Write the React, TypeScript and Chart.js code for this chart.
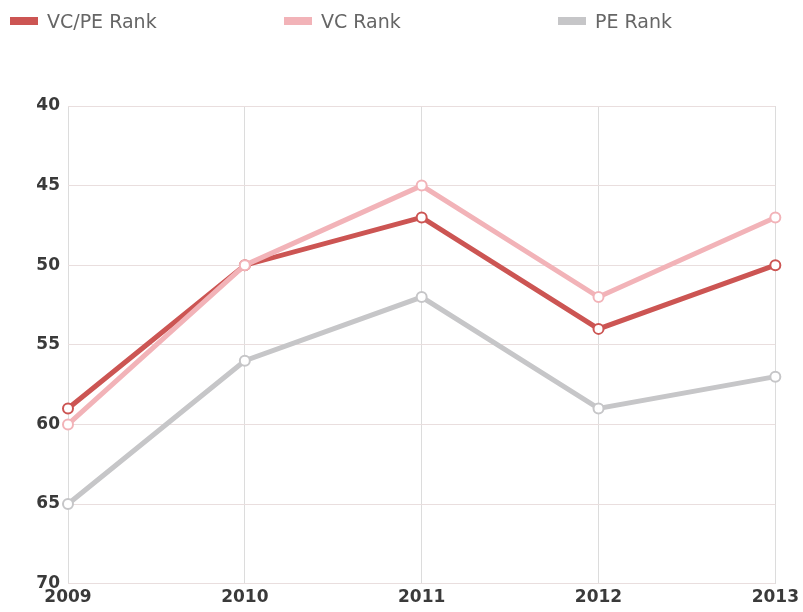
import React, { useEffect, useRef } from "react";
import { Chart, registerables } from "chart.js";

Chart.register(...registerables);

const years = ["2009", "2010", "2011", "2012", "2013"];
const vcpeRank = [59, 50, 47, 54, 50];
const vcRank = [60, 50, 45, 52, 47];
const peRank = [65, 56, 52, 59, 57];
const seriesNames = ["VC/PE Rank", "VC Rank", "PE Rank"];
const seriesColors = ["#cc5553", "#f2b3b8", "#c6c6c8"];

export default function App() {
  const ref = useRef<HTMLCanvasElement | null>(null);

  useEffect(() => {
    document.body.style.margin = "0";
    if (!ref.current) return;
    const values = [vcpeRank, vcRank, peRank];
    const chart = new Chart(ref.current, {
      type: "line",
      data: {
        labels: years,
        datasets: seriesNames.map((name, i) => ({
          label: name,
          data: values[i],
          borderColor: seriesColors[i],
          backgroundColor: "#ffffff",
          borderWidth: 5,
          pointRadius: 5,
          pointBorderWidth: 2,
          pointBackgroundColor: "#ffffff",
          pointBorderColor: seriesColors[i],
          tension: 0,
        })).reverse(),
      },
      options: {
        animation: false,
        responsive: false,
        layout: { padding: { top: 106, left: 0, right: -4, bottom: 0 } },
        plugins: {
          legend: { display: false },
          tooltip: { enabled: false },
        },
        scales: {
          x: {
            offset: false,
            grid: { color: "#dcdcdc", lineWidth: 1, drawTicks: false },
            border: { display: false },
            ticks: {
              color: "#3a3a3a",
              padding: 4,
              maxRotation: 0,
              font: { family: "DejaVu Sans", size: 17, weight: "bold" },
            },
          },
          y: {
            reverse: true,
            min: 40,
            max: 70,
            afterFit: (s: any) => {
              s.width = 68;
            },
            grid: { color: "#e9dede", lineWidth: 1, drawTicks: false },
            border: { display: false },
            ticks: {
              stepSize: 5,
              color: "#3a3a3a",
              padding: 8,
              font: { family: "DejaVu Sans", size: 17, weight: "bold" },
            },
          },
        },
      },
    });
    return () => chart.destroy();
  }, []);

  return (
    <div style={{ position: "relative", width: 803, height: 612 }}>
      <div
        style={{
          position: "absolute",
          top: 10,
          left: 10,
          display: "flex",
          fontFamily: "DejaVu Sans",
          fontSize: 19,
          color: "#666",
        }}
      >
        {seriesNames.map((n, i) => (
          <div key={n} style={{ width: 274, display: "flex", alignItems: "center" }}>
            <span
              style={{
                display: "inline-block",
                width: 28,
                height: 8,
                background: seriesColors[i],
                marginRight: 9,
              }}
            />
            <span>{n}</span>
          </div>
        ))}
      </div>
      <canvas ref={ref} width={803} height={612} style={{ display: "block" }} />
    </div>
  );
}
